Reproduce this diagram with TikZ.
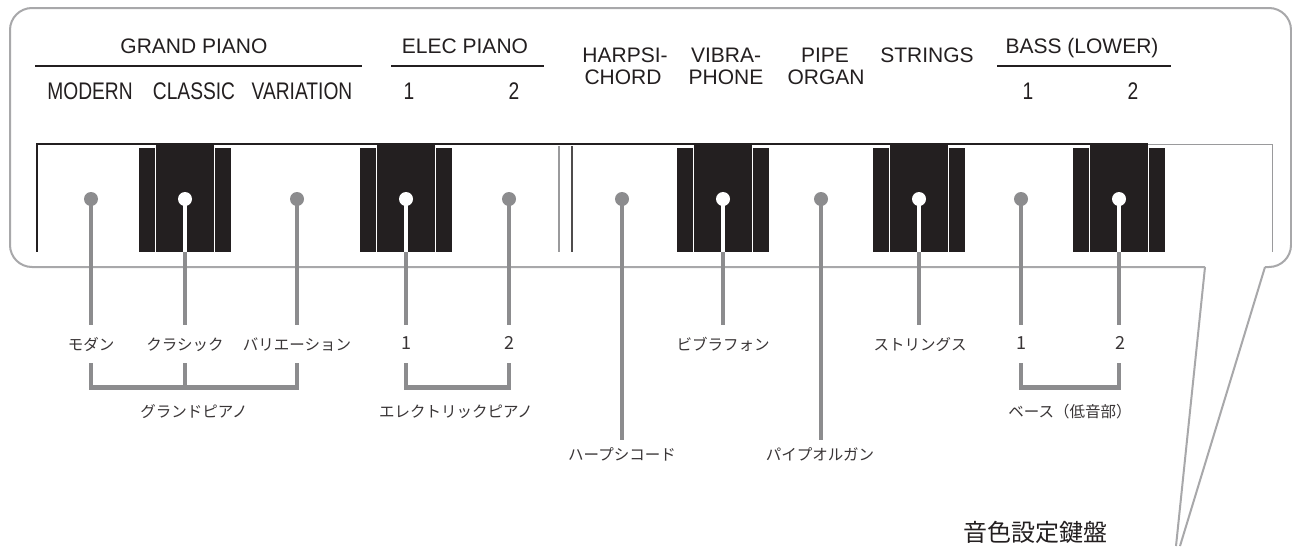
\documentclass[tikz,border=0pt]{standalone}
\usepackage{fontspec}
\setmainfont{Liberation Sans}
\newfontfamily\condfont[FakeStretch=0.8]{Liberation Sans}
\newfontfamily\jpfont{Noto Sans CJK JP}
\definecolor{ink}{HTML}{231F20}
\definecolor{stemgray}{HTML}{8C8C8E}
\definecolor{framegray}{HTML}{A8A8AA}
\definecolor{rulegray}{HTML}{9A9A9C}

\begin{document}
\begin{tikzpicture}[x=1pt,y=-1pt,
  head/.style={font=\fontsize{21}{24}\selectfont, text=ink, inner sep=0pt, anchor=base},
  sub/.style={font=\condfont\fontsize{24}{26}\selectfont, text=ink, inner sep=0pt, anchor=base},
  jlabel/.style={font=\jpfont\fontsize{15.5}{18}\selectfont, text=ink!90, inner sep=0pt, anchor=base},
  jnum/.style={font=\jpfont\fontsize{18}{20}\selectfont, text=ink!90, inner sep=0pt, anchor=base},
  jtitle/.style={font=\jpfont\fontsize{24}{26}\selectfont, text=ink, inner sep=0pt, anchor=base},
  gdot/.style={circle, fill=stemgray, minimum size=14pt, inner sep=0pt},
  wdot/.style={circle, fill=white, minimum size=14pt, inner sep=0pt},
  stem/.style={draw=stemgray, line width=4.5pt},
  wstem/.style={draw=white, line width=4.5pt},
  bracket/.style={draw=stemgray, line width=4.5pt, line join=miter},
  frame/.style={draw=framegray, line width=2pt},
  headrule/.style={draw=ink, line width=1.3pt}
]
\useasboundingbox (0,0) rectangle (1292,546);
\fill[white] (0,0) rectangle (1292,546);

% callout frame with its pointer
\draw[frame, rounded corners=22pt] (1205,267) -- (10,267) -- (10,8) -- (1291,8) -- (1291,267) -- (1265,267);
\draw[frame] (1205,267) -- (1176,546);
\draw[frame] (1265,267) -- (1180,546);

% headings
\node[head] (tGrand) at (194,53) {GRAND PIANO};
\node[head] (tElec) at (465,53) {ELEC PIANO};
\node[head] (tBass) at (1082,53) {BASS (LOWER)};
\draw[headrule] (35,66) -- (362,66);
\draw[headrule] (391,66) -- (544,66);
\draw[headrule] (997,66) -- (1171,66);
\node[head] (tHarpA) at (625,62) {HARPSI-};
\node[head] (tHarpB) at (623,84) {CHORD};
\node[head] (tVibA) at (726,62) {VIBRA-};
\node[head] (tVibB) at (726,84) {PHONE};
\node[head] (tPipeA) at (825,62) {PIPE};
\node[head] (tPipeB) at (826,84) {ORGAN};
\node[head] (tStr) at (927,62) {STRINGS};
\node[sub] (tMod) at (90,99) {MODERN};
\node[sub] (tCla) at (194,99) {CLASSIC};
\node[sub] (tVar) at (302,99) {VARIATION};
\node[sub] (tE1) at (409,99) {1};
\node[sub] (tE2) at (514,99) {2};
\node[sub] (tB1) at (1028,99) {1};
\node[sub] (tB2) at (1133,99) {2};

% keyboard outline
\draw[ink, line width=2pt] (36,144.3) -- (1148,144.3);
\draw[rulegray, line width=1pt] (1148,144) -- (1272,144);
\draw[ink, line width=2pt] (37,143.3) -- (37,251.5);
\draw[rulegray, line width=1pt] (1272,144) -- (1272,252);
\draw[rulegray, line width=1.2pt] (559,146) -- (559,252);
\draw[ink!80, line width=1.2pt] (572,146) -- (572,252);

% black keys, each with its two side slivers
\foreach \c in {185,406,723,919,1119} {
  \fill[ink] (\c-46,148) rectangle (\c-30,251.5);
  \fill[ink] (\c-29,143.3) rectangle (\c+29,251.5);
  \fill[ink] (\c+30,148) rectangle (\c+46,251.5);
}

% key bottoms under the black keys
\coordinate (kCla) at (185,251.5);
\coordinate (kE1) at (406,251.5);
\coordinate (kVib) at (723,251.5);
\coordinate (kStr) at (919,251.5);
\coordinate (kB2) at (1119,251.5);

% lower ends of the leader lines
\coordinate (eMod) at (91,325);
\coordinate (eCla) at (185,325);
\coordinate (eVar) at (297,325);
\coordinate (eE1) at (406,325);
\coordinate (eE2) at (509,325);
\coordinate (eHarp) at (622,440);
\coordinate (eVib) at (723,325);
\coordinate (ePipe) at (821,440);
\coordinate (eStr) at (919,325);
\coordinate (eB1) at (1021,325);
\coordinate (eB2) at (1119,325);

% pin heads (positions first, drawn after the leaders)
\coordinate (dMod) at (91,199);
\coordinate (dCla) at (185,199);
\coordinate (dVar) at (297,199);
\coordinate (dE1) at (406,199);
\coordinate (dE2) at (509,199);
\coordinate (dHarp) at (622,199);
\coordinate (dVib) at (723,199);
\coordinate (dPipe) at (821,199);
\coordinate (dStr) at (919,199);
\coordinate (dB1) at (1021,199);
\coordinate (dB2) at (1119,199);

% leader lines: white inside a black key, grey below it
\draw[stem] (dMod) -- (eMod);
\draw[stem] (kCla) -- (eCla);
\draw[wstem] (dCla) -- (kCla);
\draw[stem] (dVar) -- (eVar);
\draw[stem] (kE1) -- (eE1);
\draw[wstem] (dE1) -- (kE1);
\draw[stem] (dE2) -- (eE2);
\draw[stem] (dHarp) -- (eHarp);
\draw[stem] (kVib) -- (eVib);
\draw[wstem] (dVib) -- (kVib);
\draw[stem] (dPipe) -- (ePipe);
\draw[stem] (kStr) -- (eStr);
\draw[wstem] (dStr) -- (kStr);
\draw[stem] (dB1) -- (eB1);
\draw[stem] (kB2) -- (eB2);
\draw[wstem] (dB2) -- (kB2);

\node[gdot] (pMod) at (dMod) {};
\node[wdot] (pCla) at (dCla) {};
\node[gdot] (pVar) at (dVar) {};
\node[wdot] (pE1) at (dE1) {};
\node[gdot] (pE2) at (dE2) {};
\node[gdot] (pHarp) at (dHarp) {};
\node[wdot] (pVib) at (dVib) {};
\node[gdot] (pPipe) at (dPipe) {};
\node[wdot] (pStr) at (dStr) {};
\node[gdot] (pB1) at (dB1) {};
\node[wdot] (pB2) at (dB2) {};

% Japanese labels
\node[jlabel] (jMod) at (91,350) {モダン};
\node[jlabel] (jCla) at (185,350) {クラシック};
\node[jlabel] (jVar) at (297,350) {バリエーション};
\node[jnum] (jE1) at (406,349) {1};
\node[jnum] (jE2) at (509,349) {2};
\node[jlabel] (jVib) at (723,350) {ビブラフォン};
\node[jlabel] (jStr) at (920,350) {ストリングス};
\node[jnum] (jB1) at (1021,349) {1};
\node[jnum] (jB2) at (1120,349) {2};

% group brackets
\coordinate (gMod) at (91,363);
\coordinate (gCla) at (185,363);
\coordinate (gVar) at (297,363);
\coordinate (gE1) at (406,363);
\coordinate (gE2) at (509,363);
\coordinate (gB1) at (1021,363);
\coordinate (gB2) at (1119,363);
\draw[bracket] (gMod) -- ++(0,24.5) -| (gVar);
\draw[bracket] (gCla) -- ++(0,24.5);
\draw[bracket] (gE1) -- ++(0,24.5) -| (gE2);
\draw[bracket] (gB1) -- ++(0,24.5) -| (gB2);

\node[jlabel] (jGrand) at (194,417) {グランドピアノ};
\node[jlabel] (jElec) at (456,417) {エレクトリックピアノ};
\node[jlabel] (jBass) at (1070,417) {ベース（低音部）};
\node[jlabel] (jHarp) at (622,460) {ハープシコード};
\node[jlabel] (jPipe) at (820,460) {パイプオルガン};
\node[jtitle] (jTitle) at (1035,541) {音色設定鍵盤};
\end{tikzpicture}
\end{document}
